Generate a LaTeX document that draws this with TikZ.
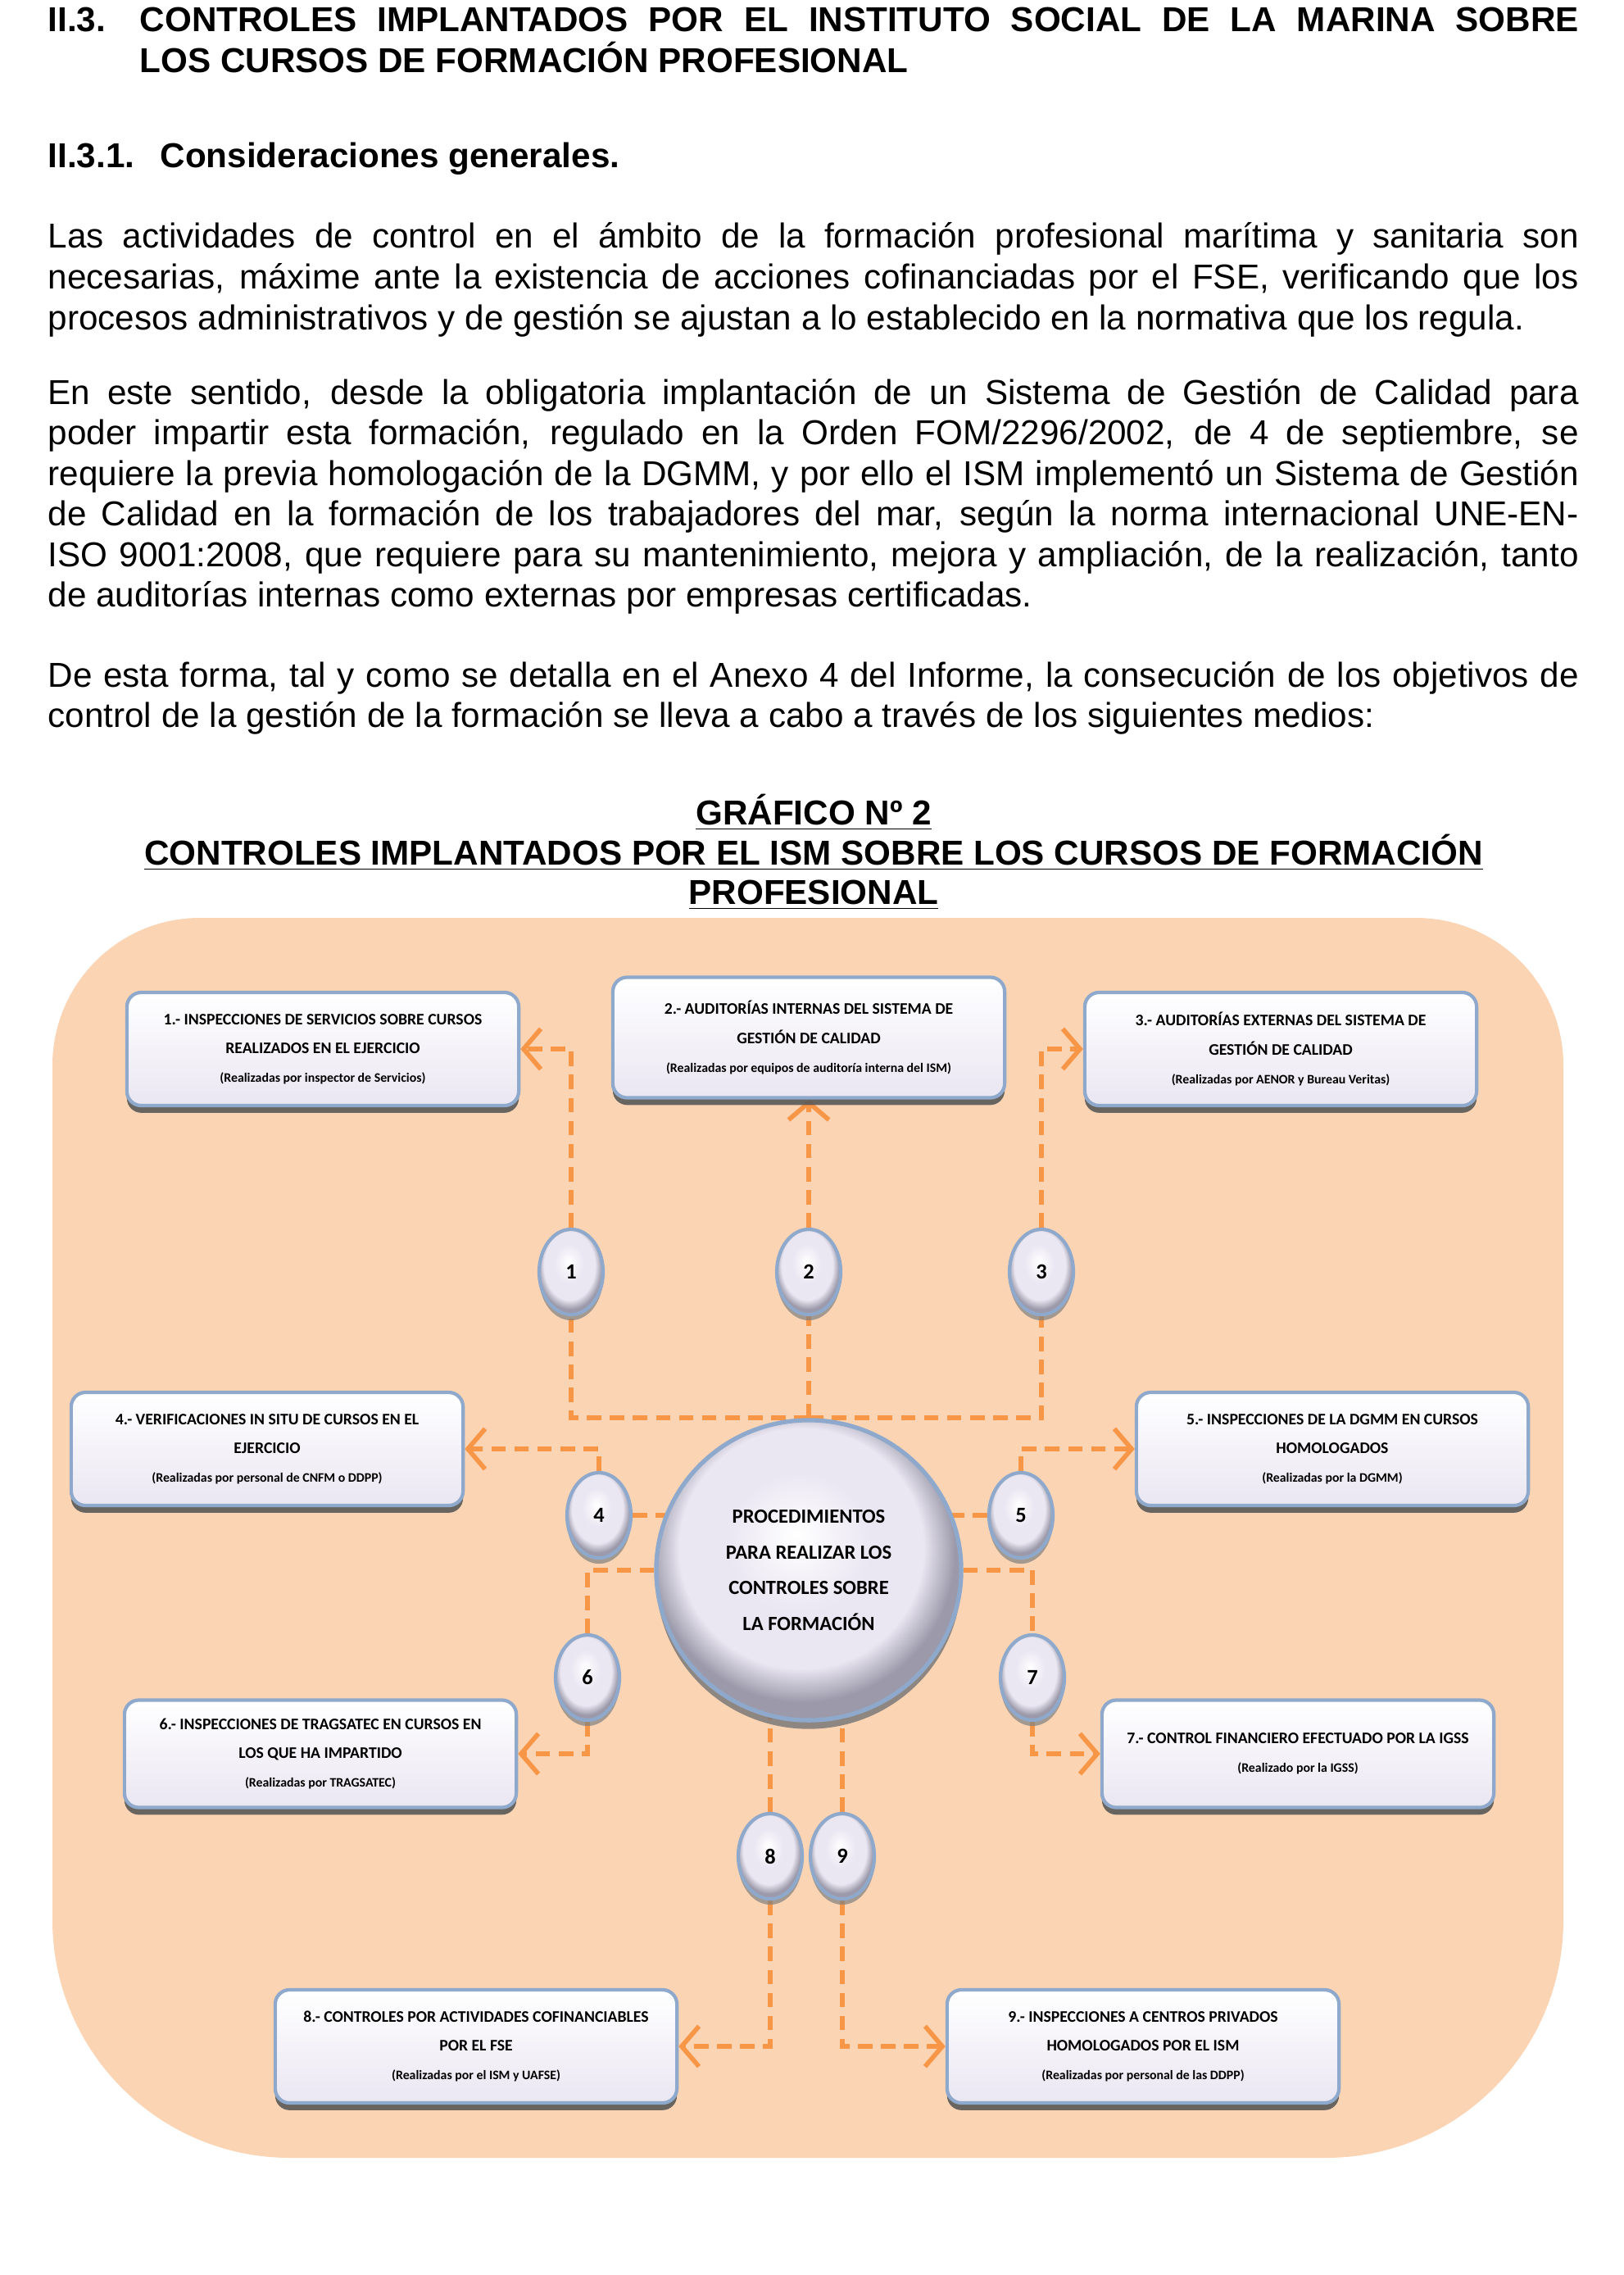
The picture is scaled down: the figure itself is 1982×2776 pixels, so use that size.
\documentclass[tikz,border=0pt]{standalone}
\usepackage{fontspec}
\setmainfont{Liberation Sans}
\newfontfamily\boxfont{Carlito}
\usetikzlibrary{arrows.meta,shapes.geometric,shadows,positioning}

\definecolor{peach}{HTML}{FBD4B4}
\definecolor{linkorange}{HTML}{F79646}
\definecolor{boxfill}{HTML}{EAE6F2}
\definecolor{boxrim}{HTML}{8EA9CB}
\definecolor{ballrim}{HTML}{9C9AAA}

% bevelled look for the round nodes
\pgfdeclareradialshading{bevel}{\pgfpoint{-2bp}{6bp}}{%
  color(0bp)=(white); color(12bp)=(boxfill); color(20bp)=(boxfill);
  color(25bp)=(ballrim); color(50bp)=(ballrim)}

\pgfdeclarelayer{back}
\pgfdeclarelayer{links}
\pgfsetlayers{back,links,main}

\newcommand{\bywho}[1]{{\fontsize{4.5}{6}\selectfont(#1)}}

\tikzset{
  bodytext/.style={anchor=base west, inner sep=0pt, text width=18.67cm, align=justify,
    font=\fontsize{12}{14.1}\selectfont},
  captext/.style={anchor=base, inner sep=0pt, font=\bfseries\fontsize{12}{13.8}\selectfont},
  ctrlbox/.style={rectangle, rounded corners=5pt, draw=boxrim, line width=1.2pt,
    top color=white, bottom color=boxfill, minimum width=4.78cm, minimum height=1.38cm,
    align=center, inner sep=2pt, font=\boxfont\bfseries\fontsize{5.6}{10}\selectfont,
    drop shadow={shadow xshift=0pt, shadow yshift=-2.5pt, fill=black!65, opacity=.9}},
  numball/.style={ellipse, draw=boxrim, line width=1.2pt, shading=bevel,
    minimum width=0.78cm, minimum height=1.04cm, inner sep=0pt,
    font=\boxfont\bfseries\fontsize{7.5}{8}\selectfont,
    drop shadow={shadow xshift=0pt, shadow yshift=-2pt, fill=black!50, opacity=.7}},
  hub/.style={ellipse, draw=boxrim, line width=1.5pt, shading=bevel,
    minimum width=3.72cm, minimum height=3.66cm, inner sep=0pt, align=center,
    font=\boxfont\bfseries\fontsize{7}{12.5}\selectfont,
    drop shadow={shadow xshift=0pt, shadow yshift=-3pt, fill=black!55, opacity=.8}},
  link/.style={linkorange, line width=1.6pt, dash pattern=on 5pt off 3pt},
  linkto/.style={link, -{Straight Barb[length=6pt,width=14pt]}},
}

\begin{document}
\begin{tikzpicture}[x=0.01cm, y=-0.01cm]
  \useasboundingbox (0,0) rectangle (1982,2776);

  % section heading and text
  \node[anchor=base west, inner sep=0pt, font=\bfseries\fontsize{12}{14.1}\selectfont] (secnum) at (58,39) {II.3.};
  \node[anchor=base west, inner sep=0pt, text width=17.55cm, align=justify,
        font=\bfseries\fontsize{12}{14.1}\selectfont] (sectitle) at (170,39)
    {CONTROLES IMPLANTADOS POR EL INSTITUTO SOCIAL DE LA MARINA SOBRE\linebreak LOS CURSOS DE FORMACIÓN PROFESIONAL};
  \node[anchor=base west, inner sep=0pt, font=\bfseries\fontsize{12}{14.1}\selectfont] (subnum) at (58,205) {II.3.1.};
  \node[anchor=base west, inner sep=0pt, font=\bfseries\fontsize{12}{14.1}\selectfont] (subtitle) at (195,205) {Consideraciones generales.};

  \node[bodytext] (para1) at (58,303)
    {Las actividades de control en el ámbito de la formación profesional marítima y sanitaria son\linebreak
     necesarias, máxime ante la existencia de acciones cofinanciadas por el FSE, verificando que los\linebreak
     procesos administrativos y de gestión se ajustan a lo establecido en la normativa que los regula.};
  \node[bodytext] (para2) at (58,493)
    {En este sentido, desde la obligatoria implantación de un Sistema de Gestión de Calidad para\linebreak
     poder impartir esta formación, regulado en la Orden FOM/2296/2002, de 4 de septiembre, se\linebreak
     requiere la previa homologación de la DGMM, y por ello el ISM implementó un Sistema de Gestión\linebreak
     de Calidad en la formación de los trabajadores del mar, según la norma internacional UNE-EN-\linebreak
     ISO 9001:2008, que requiere para su mantenimiento, mejora y ampliación, de la realización, tanto\linebreak
     de auditorías internas como externas por empresas certificadas.};
  \node[bodytext] (para3) at (58,838)
    {De esta forma, tal y como se detalla en el Anexo 4 del Informe, la consecución de los objetivos de\linebreak
     control de la gestión de la formación se lleva a cabo a través de los siguientes medios:};

  % chart caption
  \node[captext] (capnum) at (993,1006) {\underline{GRÁFICO Nº 2}};
  \node[captext] (capline1) at (993,1055) {\underline{CONTROLES IMPLANTADOS POR EL ISM SOBRE LOS CURSOS DE FORMACIÓN}};
  \node[captext] (capline2) at (993,1103) {\underline{PROFESIONAL}};

  % peach panel
  \begin{pgfonlayer}{back}
    \fill[peach] (64,1800) [rounded corners=1.8cm] -- (64,1120) -- (1908,1120) -- (1908,1800)
      [rounded corners=2.9cm] -- (1908,2633) -- (64,2633) -- cycle;
  \end{pgfonlayer}

  % centre
  \node[hub] (ctr) at (987,1916) {PROCEDIMIENTOS\\PARA REALIZAR LOS\\CONTROLES SOBRE\\LA FORMACIÓN};

  % control boxes
  \node[ctrlbox] (b1) at (394,1280) {1.- INSPECCIONES DE SERVICIOS SOBRE CURSOS\\REALIZADOS EN EL EJERCICIO\\\bywho{Realizadas por inspector de Servicios}};
  \node[ctrlbox, minimum height=1.47cm] (b2) at (987,1266) {2.- AUDITORÍAS INTERNAS DEL SISTEMA DE\\GESTIÓN DE CALIDAD\\\bywho{Realizadas por equipos de auditoría interna del ISM}};
  \node[ctrlbox] (b3) at (1563,1280) {3.- AUDITORÍAS EXTERNAS DEL SISTEMA DE\\GESTIÓN DE CALIDAD\\\bywho{Realizadas por AENOR y Bureau Veritas}};
  \node[ctrlbox] (b4) at (326,1768) {4.- VERIFICACIONES IN SITU DE CURSOS EN EL\\EJERCICIO\\\bywho{Realizadas por personal de CNFM o DDPP}};
  \node[ctrlbox] (b5) at (1626,1768) {5.- INSPECCIONES DE LA DGMM EN CURSOS\\HOMOLOGADOS\\\bywho{Realizadas por la DGMM}};
  \node[ctrlbox, minimum height=1.31cm] (b6) at (391,2140) {6.- INSPECCIONES DE TRAGSATEC EN CURSOS EN\\LOS QUE HA IMPARTIDO\\\bywho{Realizadas por TRAGSATEC}};
  \node[ctrlbox, minimum height=1.31cm] (b7) at (1584,2140) {7.- CONTROL FINANCIERO EFECTUADO POR LA IGSS\\\bywho{Realizado por la IGSS}};
  \node[ctrlbox, minimum width=4.9cm] (b8) at (581,2497) {8.- CONTROLES POR ACTIVIDADES COFINANCIABLES\\POR EL FSE\\\bywho{Realizadas por el ISM y UAFSE}};
  \node[ctrlbox] (b9) at (1395,2497) {9.- INSPECCIONES A CENTROS PRIVADOS\\HOMOLOGADOS POR EL ISM\\\bywho{Realizadas por personal de las DDPP}};

  % numbered steps
  \node[numball] (c1) at (697,1552) {1};
  \node[numball] (c2) at (987,1552) {2};
  \node[numball] (c3) at (1271,1552) {3};
  \node[numball] (c4) at (731,1849) {4};
  \node[numball] (c5) at (1246,1849) {5};
  \node[numball] (c6) at (717,2047) {6};
  \node[numball] (c7) at (1260,2047) {7};
  \node[numball] (c8) at (940,2265) {8};
  \node[numball] (c9) at (1028,2265) {9};

  % dashed links
  \begin{pgfonlayer}{links}
    \draw[link] (ctr.north) -| (c1.south);
    \draw[link] (ctr.north) -- (c2.south);
    \draw[link] (ctr.north) -| (c3.south);
    \draw[linkto] (c1.north) |- (b1.east);
    \draw[linkto] (c2.north) -- (b2.south);
    \draw[linkto] (c3.north) |- (b3.west);

    \draw[link] (c4.east) -- (c4.east -| ctr.center);
    \draw[linkto] (c4.north) |- (b4.east);
    \draw[link] (c5.west) -- (c5.west -| ctr.center);
    \draw[linkto] (c5.north) |- (b5.west);

    \draw[link] (ctr.west) -| (c6.north);
    \draw[linkto] (c6.south) |- (b6.east);
    \draw[link] (ctr.east) -| (c7.north);
    \draw[linkto] (c7.south) |- (b7.west);

    \draw[link] (c8.north) -- (c8.north |- ctr.center);
    \draw[linkto] (c8.south) |- (b8.east);
    \draw[link] (c9.north) -- (c9.north |- ctr.center);
    \draw[linkto] (c9.south) |- (b9.west);
  \end{pgfonlayer}
\end{tikzpicture}
\end{document}
